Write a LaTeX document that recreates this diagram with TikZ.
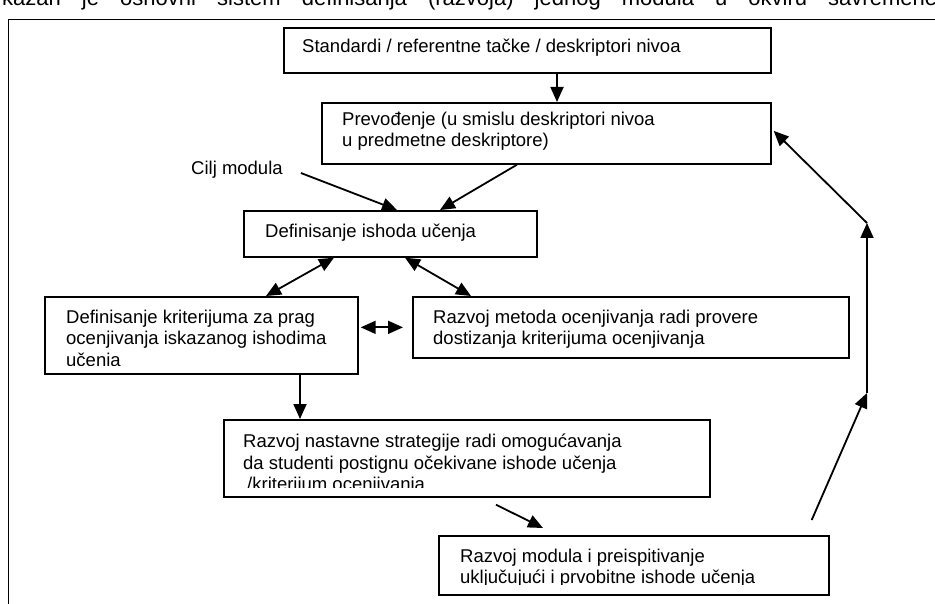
\documentclass[tikz,border=0pt]{standalone}
\usepackage{fontspec}
\setmainfont{Liberation Sans}
\usetikzlibrary{arrows.meta,positioning,calc}

\begin{document}
\begin{tikzpicture}[
  x=1pt, y=-1pt,
  font=\fontsize{18.5}{21.3}\selectfont,
  box/.style={rectangle, draw, line width=1.7pt, inner sep=0pt, anchor=north west},
  txt/.style={anchor=north west, inner sep=0pt, align=left},
  flow/.style={-{Triangle[length=15pt,width=13pt]}, line width=1.8pt},
  both/.style={{Triangle[length=15pt,width=13pt]}-{Triangle[length=15pt,width=13pt]},
               line width=1.8pt},
]
\useasboundingbox (0,0) rectangle (935,604);

% =============================== frame =====================================
\node[txt, anchor=base west, font=\fontsize{22}{26}\selectfont] at (2,6) (intro)
  {\makebox[935pt][s]{kazan je osnovni sistem definisanja (razvoja) jednog modula u okviru savremene}};
\node[box, line width=1.4pt, minimum width=960pt, minimum height=640pt] at (8,19) (frame) {};

% =============================== nodes =====================================
\node[box, minimum width=487pt, minimum height=45pt] at (283,27) (std) {};
\node[txt] at (302,39) (stdT) {Standardi / referentne tačke / deskriptori nivoa};

\node[box, minimum width=449pt, minimum height=61pt] at (321,102) (prev) {};
\node[txt] at (342,112) (prevT) {Prevođenje (u smislu deskriptori nivoa\\
  u predmetne deskriptore)};

\node[txt, anchor=west] at (191,170) (cilj) {Cilj modula};

\node[box, minimum width=293pt, minimum height=46pt] at (243,210) (def) {};
\node[txt] at (265,224) (defT) {Definisanje ishoda učenja};

\node[box, minimum width=313pt, minimum height=77pt] at (44,296) (krit) {};
\begin{scope}
  \clip (krit.north west) rectangle ($(krit.south east)+(0,-9)$);
  \node[txt] at (66,310) (kritT) {Definisanje kriterijuma za prag\\
    ocenjivanja iskazanog ishodima\\
    učenja};
\end{scope}

\node[box, minimum width=436pt, minimum height=61pt] at (412,296) (meth) {};
\node[txt] at (433,310) (methT) {Razvoj metoda ocenjivanja radi provere\\
  dostizanja kriterijuma ocenjivanja};

\node[box, minimum width=486pt, minimum height=77pt] at (223,419) (strat) {};
\begin{scope}
  \clip (strat.north west) rectangle ($(strat.south east)+(0,-10)$);
  \node[txt] at (243,434) (stratT) {Razvoj nastavne strategije radi omogućavanja\\
    da studenti postignu očekivane ishode učenja\\
    \hspace{4pt}/kriterijum ocenjivanja};
\end{scope}

\node[box, minimum width=390pt, minimum height=59pt] at (438,535) (dev) {};
\begin{scope}
  \clip (dev.north west) rectangle ($(dev.south east)+(0,-11)$);
  \node[txt] at (460,549) (devT) {Razvoj modula i preispitivanje\\
    uključujući i prvobitne ishode učenja};
\end{scope}

% bends of the feedback loop on the right
\coordinate (loopLow) at (867,393);
\coordinate (loopHigh) at (867,223);

% =============================== flows =====================================
\draw[flow] ($(std.south west)+(274,0)$) -- ($(prev.north west)+(236,0)$);

% goal and translation -> outcomes
\draw[flow] ($(cilj.east)+(18,3)$) -- ($(def.north west)+(154,0)$);
\draw[flow] ($(prev.south west)+(196,0)$) -- ($(def.north west)+(197,0)$);

% outcomes <-> criteria / methods
\draw[both] ($(def.south west)+(91,0)$) -- ($(krit.north west)+(222,0)$);
\draw[both] ($(def.south west)+(162,0)$) -- ($(meth.north west)+(59,0)$);
\draw[both] ($(krit.east |- meth.west)+(2,0)$) -- ($(meth.west)+(-9,0)$);

% criteria -> strategy -> module
\draw[flow] ($(krit.south west)+(256,0)$) -- ($(strat.north west)+(77,0)$);
\draw[flow] ($(strat.south west)+(273,7)$) -- ($(dev.north west)+(105,-7)$);

% feedback loop back to the translation step
\draw[flow] ($(dev.north east)+(-18,-15)$) -- (loopLow);
\draw[flow] (loopLow) -- (loopHigh);
\draw[flow] (loopHigh) -- ($(prev.east)+(2,-2.5)$);

\end{tikzpicture}
\end{document}
